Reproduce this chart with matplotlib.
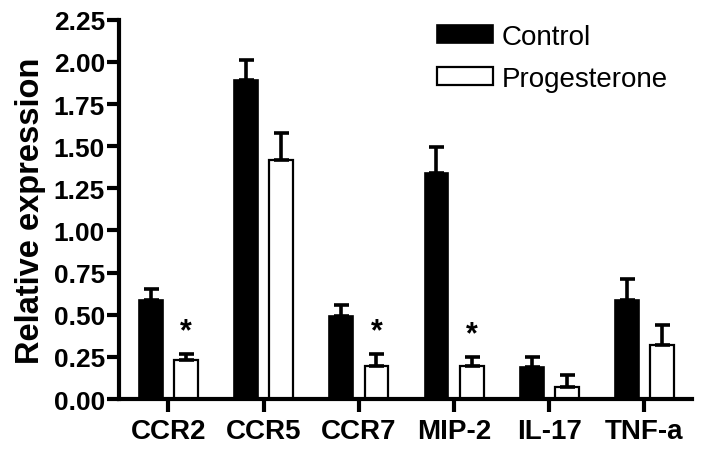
import matplotlib
matplotlib.use("Agg")
import matplotlib.pyplot as plt
import numpy as np
from matplotlib.patches import Patch

categories = ["CCR2", "CCR5", "CCR7", "MIP-2", "IL-17", "TNF-a"]
control = [0.59, 1.89, 0.49, 1.34, 0.19, 0.59]
control_err = [0.065, 0.12, 0.065, 0.155, 0.06, 0.12]
progesterone = [0.23, 1.42, 0.195, 0.195, 0.07, 0.32]
progesterone_err = [0.035, 0.16, 0.07, 0.055, 0.072, 0.12]
significant = [True, False, True, True, False, False]
yticks = [0.0, 0.25, 0.5, 0.75, 1.0, 1.25, 1.5, 1.75, 2.0, 2.25]

plt.rcParams['font.family'] = ['Liberation Sans', 'DejaVu Sans']

fig = plt.figure(figsize=(7.04, 4.52), dpi=100)
ax = fig.add_axes([0.169, 0.115, 0.814, 0.839])

x = np.arange(len(categories))
w = 0.25
off = 0.185
lw_spine = 3.0

err_kw = dict(ecolor='black', elinewidth=2.6, capsize=5.4, capthick=2.6)
ax.bar(x - off, control, w, color='black', edgecolor='black', linewidth=1.2,
       yerr=[np.zeros(len(control)), control_err], error_kw=err_kw, zorder=2)
ax.bar(x + off, progesterone, w, color='white', edgecolor='black', linewidth=1.6,
       yerr=[np.zeros(len(progesterone)), progesterone_err], error_kw=err_kw, zorder=2)

for i, s in enumerate(significant):
    if s:
        ax.text(x[i] + off, progesterone[i] + progesterone_err[i] + 0.135, '*',
                ha='center', va='center', fontsize=22, fontweight='bold')

ax.set_xlim(-0.52, 5.5)
ax.set_ylim(0, 2.25)
ax.set_yticks(yticks)
ax.set_yticklabels([f"{v:.2f}" for v in yticks], fontsize=19, fontweight='bold')
ax.set_xticks(x)
ax.set_xticklabels(categories, fontsize=20, fontweight='bold')
ax.set_ylabel("Relative expression", fontsize=23.5, fontweight='bold', labelpad=6)

for sp in ['top', 'right']:
    ax.spines[sp].set_visible(False)
for sp in ['left', 'bottom']:
    ax.spines[sp].set_linewidth(lw_spine)
ax.tick_params(axis='y', length=9, width=lw_spine, pad=1)
ax.tick_params(axis='x', length=9, width=lw_spine, pad=5)

handles = [Patch(facecolor='black', edgecolor='black', linewidth=1.2, label='Control'),
           Patch(facecolor='white', edgecolor='black', linewidth=1.6, label='Progesterone')]
ax.legend(handles=handles, loc='upper left', bbox_to_anchor=(0.555, 0.99),
          frameon=False, fontsize=20, handlelength=2.0, handleheight=0.65,
          handletextpad=0.32, labelspacing=0.58, borderpad=0, borderaxespad=0)

fig.savefig("out.png", dpi=100)
